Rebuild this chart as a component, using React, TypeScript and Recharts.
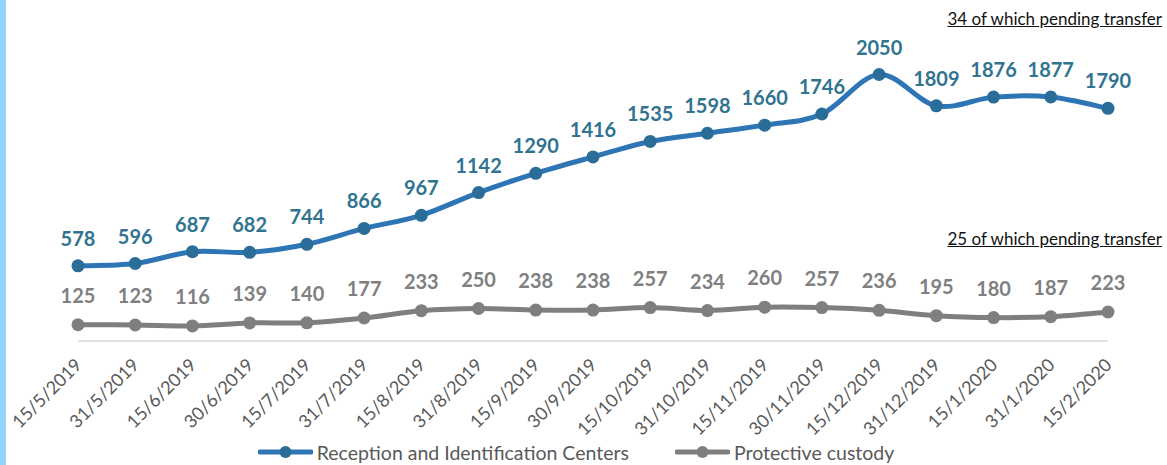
import React from 'react'
import { LineChart, Line, XAxis, YAxis, Legend } from 'recharts'

const dates = [
  '15/5/2019', '31/5/2019', '15/6/2019', '30/6/2019', '15/7/2019', '31/7/2019', '15/8/2019',
  '31/8/2019', '15/9/2019', '30/9/2019', '15/10/2019', '31/10/2019', '15/11/2019', '30/11/2019',
  '15/12/2019', '31/12/2019', '15/1/2020', '31/1/2020', '15/2/2020',
]
const ricValues = [578, 596, 687, 682, 744, 866, 967, 1142, 1290, 1416, 1535, 1598, 1660, 1746, 2050, 1809, 1876, 1877, 1790]
const custodyValues = [125, 123, 116, 139, 140, 177, 233, 250, 238, 238, 257, 234, 260, 257, 236, 195, 180, 187, 223]

const ricName = 'Reception and Identification Centers'
const custodyName = 'Protective custody'

const data = dates.map((d, i) => ({ date: d, ric: ricValues[i], custody: custodyValues[i] }))

const BLUE = '#2e75b6'
const BLUE_DOT = '#2a6d98'
const BLUE_LABEL = '#31748f'
const GRAY = '#7f7f7f'
const FONT = 'Lato, "Open Sans", sans-serif'

// excel-like smoothed line (catmull-rom style bezier)
const smoothCurve = (ctx: any) => {
  let pts: number[][] = []
  return {
    areaStart() {},
    areaEnd() {},
    lineStart() { pts = [] },
    point(x: number, y: number) { pts.push([+x, +y]) },
    lineEnd() {
      const n = pts.length
      if (!n) return
      ctx.moveTo(pts[0][0], pts[0][1])
      for (let i = 0; i < n - 1; i++) {
        const p0 = pts[Math.max(i - 1, 0)]
        const p1 = pts[i]
        const p2 = pts[i + 1]
        const p3 = pts[Math.min(i + 2, n - 1)]
        ctx.bezierCurveTo(
          p1[0] + (p2[0] - p0[0]) / 6, p1[1] + (p2[1] - p0[1]) / 6,
          p2[0] - (p3[0] - p1[0]) / 6, p2[1] - (p3[1] - p1[1]) / 6,
          p2[0], p2[1],
        )
      }
    },
  }
}

const DateTick = ({ x, y, payload }: any) => (
  <text
    transform={`translate(${x + 5},${y + 17}) rotate(-45)`}
    textAnchor="end"
    fill="#595959"
    fontSize={18}
    fontFamily={FONT}
  >
    {payload.value}
  </text>
)

const LegendContent = () => {
  const items = [
    { name: ricName, color: BLUE, dot: BLUE_DOT },
    { name: custodyName, color: GRAY, dot: GRAY },
  ]
  return (
    <div style={{ display: 'flex', justifyContent: 'center', gap: 46, height: 26, alignItems: 'center', paddingRight: 34 }}>
      {items.map((it) => (
        <div key={it.name} style={{ display: 'flex', alignItems: 'center', gap: 4 }}>
          <svg width={55} height={14}>
            <line x1={2} y1={7} x2={53} y2={7} stroke={it.color} strokeWidth={5} strokeLinecap="round" />
            <circle cx={27.5} cy={7} r={6} fill={it.dot} />
          </svg>
          <span style={{ fontFamily: FONT, fontSize: 19.5, color: '#595959' }}>{it.name}</span>
        </div>
      ))}
    </div>
  )
}

const noteStyle: React.CSSProperties = {
  position: 'absolute',
  right: 5,
  fontFamily: FONT,
  fontSize: 17,
  color: '#111',
  textDecoration: 'underline',
  whiteSpace: 'nowrap',
}

export default function App() {
  return (
    <div style={{ position: 'fixed', left: 0, top: 0, width: 1167, height: 465, background: '#fff', overflow: 'hidden' }}>
      <div style={{ position: 'absolute', left: 0, top: 0, width: 6, height: 465, background: '#93d3fd' }} />
      <LineChart width={1167} height={465} data={data} margin={{ top: 16, right: 59, left: 78, bottom: 0 }}>
        <YAxis hide domain={[0, 2500]} />
        <XAxis
          dataKey="date"
          interval={0}
          height={98}
          tickLine={false}
          axisLine={{ stroke: '#d9d9d9', strokeWidth: 1.5 }}
          tick={<DateTick />}
        />
        <Legend verticalAlign="bottom" content={<LegendContent />} />
        <Line
          type={smoothCurve as any}
          dataKey="ric"
          name={ricName}
          stroke={BLUE}
          strokeWidth={5}
          dot={{ r: 6.5, fill: BLUE_DOT, stroke: 'none' }}
          activeDot={false}
          isAnimationActive={false}
          label={{ position: 'top', offset: 20, fill: BLUE_LABEL, fontSize: 20, fontWeight: 700, fontFamily: FONT }}
        />
        <Line
          type={smoothCurve as any}
          dataKey="custody"
          name={custodyName}
          stroke={GRAY}
          strokeWidth={5}
          dot={{ r: 6.5, fill: GRAY, stroke: 'none' }}
          activeDot={false}
          isAnimationActive={false}
          label={{ position: 'top', offset: 22, fill: '#808080', fontSize: 20, fontWeight: 700, fontFamily: FONT }}
        />
      </LineChart>
      <div style={{ ...noteStyle, top: 8 }}>
        <span style={{ textDecorationThickness: 2 }}>34</span> of which pending transfer
      </div>
      <div style={{ ...noteStyle, top: 228 }}>25 of which pending transfer</div>
    </div>
  )
}
